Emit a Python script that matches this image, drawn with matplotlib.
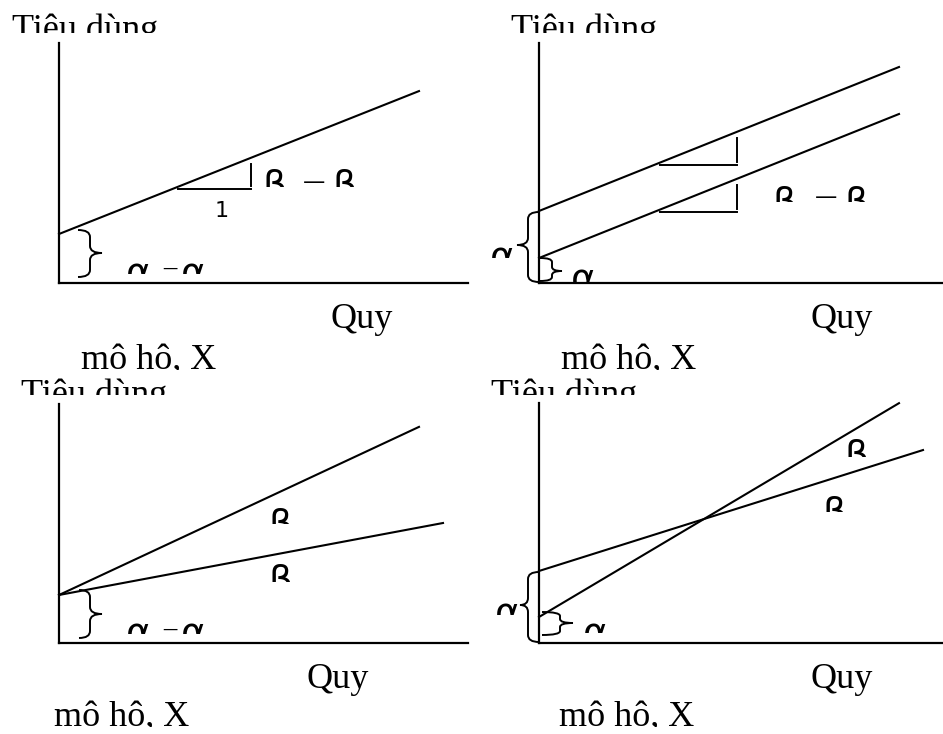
import matplotlib
matplotlib.use("Agg")
import matplotlib.pyplot as plt
import numpy as np
from matplotlib.path import Path
from matplotlib.patches import PathPatch
from matplotlib.transforms import Bbox, TransformedBbox

W, H = 943, 734

# consumption lines for each panel: intercept, slope and x where the line stops
line_intercept = [[49], [72, 25], [48, 48], [72, 26]]
line_slope = [[0.397], [0.40, 0.40], [0.467, 0.1875], [0.315, 0.594]]
line_end = [[360], [360, 360], [360, 384], [384, 360]]

# slope triangles (panel, line, start x, run)
triangles = [(0, 0, 119, 73), (1, 0, 121, 77), (1, 1, 121, 77)]

# panel frames in page pixels: corner of the axes, right end, top end
frame_x = [59, 539, 59, 539]
frame_y = [283, 283, 643, 643]
frame_right = [468, 943, 468, 943]
frame_top = [43, 43, 404, 403]

# braces: panel, end x, middle x, tip x, bottom y, tip y, top y, corner radius
braces = [
    (0, 19, 31, 43, 6, 30, 53, 7),
    (1, 0, -11, -22, 1, 38, 71, 7),
    (1, 1, 13, 23, 2, 12, 25, 4),
    (2, 20, 31, 43, 5, 29, 53, 7),
    (3, 0, -11, -19, 1, 38, 71, 7),
    (3, 3, 21, 34, 8, 20, 31, 4),
]

fig = plt.figure(figsize=(W / 100, H / 100), dpi=100)
fig.patch.set_facecolor("white")


def draw_brace(ax, xe, xm, xt, y0, ym, y1, r):
    verts = [(xe, y1), (xm, y1), (xm, y1 - r),
             (xm, ym + r), (xm, ym), (xt, ym),
             (xm, ym), (xm, ym - r),
             (xm, y0 + r), (xm, y0), (xe, y0)]
    codes = [Path.MOVETO, Path.CURVE3, Path.CURVE3,
             Path.LINETO, Path.CURVE3, Path.CURVE3,
             Path.CURVE3, Path.CURVE3,
             Path.LINETO, Path.CURVE3, Path.CURVE3]
    ax.add_patch(PathPatch(Path(verts, codes), fill=False, lw=1.4,
                           edgecolor="black", clip_on=False))


axes = []
for i in range(4):
    w = frame_right[i] - frame_x[i]
    h = frame_y[i] - frame_top[i]
    ax = fig.add_axes([frame_x[i] / W, 1 - frame_y[i] / H, w / W, h / H])
    ax.set_xlim(0, w)
    ax.set_ylim(0, h)
    for s in ["top", "right"]:
        ax.spines[s].set_visible(False)
    for s in ["left", "bottom"]:
        ax.spines[s].set_linewidth(1.6)
    ax.set_xticks([])
    ax.set_yticks([])
    ax.patch.set_alpha(0)
    for a, b, xe in zip(line_intercept[i], line_slope[i], line_end[i]):
        x = np.array([0, xe])
        ax.plot(x, a + b * x, color="black", lw=1.5, clip_on=False)
    axes.append(ax)

for p, k, x0, run in triangles:
    a, b = line_intercept[p][k], line_slope[p][k]
    hy = a + b * x0 - 2
    axes[p].plot([x0, x0 + run], [hy, hy], color="black", lw=1.4)
    axes[p].plot([x0 + run, x0 + run], [hy + 3, a + b * (x0 + run) - 6],
                 color="black", lw=1.4)

for p, xe, xm, xt, y0, ym, y1, r in braces:
    draw_brace(axes[p], xe, xm, xt, y0, ym, y1, r)


def page_text(s, x, y, clip_y=None, **kw):
    t = fig.text(x / W, 1 - y / H, s, ha="left", va="baseline", **kw)
    if clip_y is not None:
        t.set_clip_box(TransformedBbox(Bbox.from_extents(0, 1 - clip_y / H, 1, 1),
                                       fig.transFigure))
        t.set_clip_on(True)
    return t


serif = dict(family="Liberation Serif", fontsize=26)
greek = dict(family="DejaVu Sans", fontsize=27)

for x, y, c in [(12, 39, 33), (511, 39, 33), (21, 404, 395), (491, 404, 395)]:
    page_text("Tiêu dùng", x, y, c, **serif)
for x, y in [(331, 328), (811, 328), (307, 688), (811, 688)]:
    page_text("Quy", x, y, **serif)
for x, y in [(81, 369), (561, 369), (54, 726), (559, 726)]:
    page_text("mô hộ, X", x, y, y + 0.5, **serif)

# beta labels: x, top of glyph, clip line
for x, top, c in [(265, 170, 187), (335, 170, 187), (775, 187, 202), (847, 187, 202),
                  (272, 509, 524), (272, 565, 582), (848, 440, 457), (825, 497, 512)]:
    page_text("β", x - 3, top + 27, c, **greek)

# alpha labels
for x, top, c in [(128, 264, 274), (183, 264, 274), (492, 248, 258), (573, 270, 282),
                  (128, 624, 634), (183, 624, 634), (497, 605, 615), (585, 625, 633)]:
    page_text("α", x - 2, top + 21, c, **greek)

# dashes between the coefficient symbols
for x, y in [(303, 182), (815, 197)]:
    page_text("—", x, y + 6, family="DejaVu Sans", fontsize=16)
for x, y in [(162, 269), (162, 630)]:
    page_text("—", x, y + 4, family="DejaVu Sans", fontsize=11)

page_text("1", 215, 217, family="DejaVu Sans", fontsize=16)

fig.savefig("out.png", dpi=100, facecolor="white")
